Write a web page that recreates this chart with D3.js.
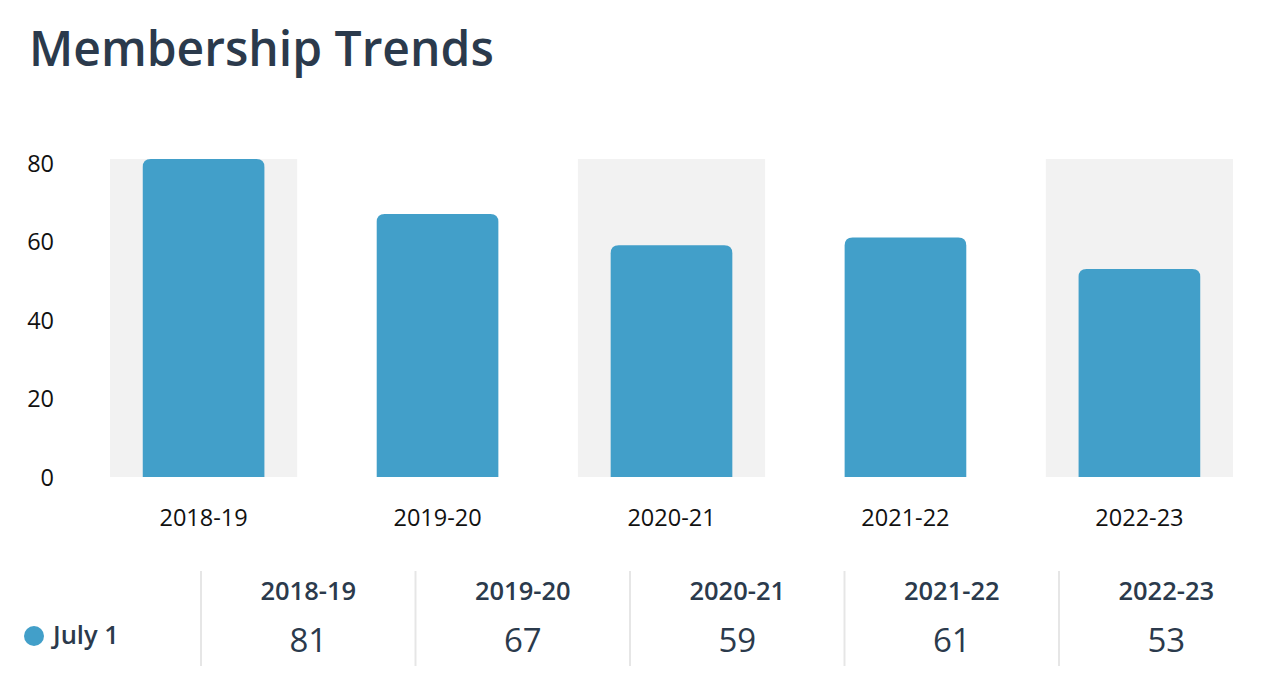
<!DOCTYPE html>
<html lang="en">
  <head>
    <meta charset="UTF-8" />
    <title>Membership Trends</title>
    <style>
      body {
        margin: 0;
        background: #fff;
        font-family: "Open Sans", sans-serif;
        overflow: hidden;
      }
      .title {
        font-size: 48px;
        font-weight: 600;
        fill: #2b3a4c;
      }
      .axis text {
        font-size: 23.5px;
        fill: #111;
        font-family: "Open Sans", sans-serif;
      }
      .axis path,
      .axis line {
        display: none;
      }
      .shade {
        fill: #f2f2f2;
      }
      .bar {
        fill: #429fc9;
      }
      .divider {
        stroke: #e6e6e6;
        stroke-width: 2px;
      }
      .head {
        font-size: 25.5px;
        font-weight: 600;
        fill: #2b3a4c;
      }
      .val {
        font-size: 33px;
        fill: #2b3a4c;
      }
      .legend-text {
        font-size: 25.5px;
        font-weight: 600;
        fill: #2b3a4c;
      }
    </style>
  </head>
  <body>
    <svg width="1264" height="682"></svg>

    <script src="https://cdn.jsdelivr.net/npm/d3@7"></script>
    <script>
      const seasons = ["2018-19", "2019-20", "2020-21", "2021-22", "2022-23"];
      const july1 = [81, 67, 59, 61, 53];
      const yTicks = [0, 20, 40, 60, 80];
      const seriesName = "July 1";

      const svg = d3.select("svg");

      svg
        .append("text")
        .attr("class", "title")
        .attr("x", 29)
        .attr("y", 66)
        .text("Membership Trends");

      // plot area
      const x = d3
        .scaleBand()
        .domain(seasons)
        .range([110, 1233])
        .paddingInner(0.2)
        .paddingOuter(0);

      const y = d3.scaleLinear().domain([0, d3.max(july1)]).range([477, 159]);

      // alternating background columns
      svg
        .selectAll("rect.shade")
        .data(seasons.filter((d, i) => i % 2 === 0))
        .enter()
        .append("rect")
        .attr("class", "shade")
        .attr("x", (d) => x(d))
        .attr("y", y.range()[1])
        .attr("width", x.bandwidth())
        .attr("height", y.range()[0] - y.range()[1]);

      const barW = x.bandwidth() * 0.65;
      const r = 8;

      function topRounded(x0, y0, w, h) {
        return `M ${x0} ${y0 + h}
                V ${y0 + r}
                Q ${x0} ${y0} ${x0 + r} ${y0}
                H ${x0 + w - r}
                Q ${x0 + w} ${y0} ${x0 + w} ${y0 + r}
                V ${y0 + h} Z`;
      }

      svg
        .selectAll("path.bar")
        .data(seasons)
        .enter()
        .append("path")
        .attr("class", "bar")
        .attr("d", (d, i) => {
          const bx = x(d) + (x.bandwidth() - barW) / 2;
          const by = y(july1[i]);
          return topRounded(bx, by, barW, y(0) - by);
        });

      // axes
      svg
        .append("g")
        .attr("class", "axis")
        .attr("transform", "translate(54,0)")
        .call(d3.axisLeft(y).tickValues(yTicks).tickSize(0).tickPadding(0))
        .selectAll("text")
        .attr("dy", "0.35em");

      svg
        .append("g")
        .attr("class", "axis")
        .attr("transform", "translate(0,477)")
        .call(d3.axisBottom(x).tickSize(0).tickPadding(32));

      // data table below
      const col = d3
        .scaleBand()
        .domain(seasons)
        .range([201, 201 + 214.5 * 5]);

      svg
        .selectAll("line.divider")
        .data(seasons)
        .enter()
        .append("line")
        .attr("class", "divider")
        .attr("x1", (d) => col(d))
        .attr("x2", (d) => col(d))
        .attr("y1", 571)
        .attr("y2", 666);

      svg
        .selectAll("text.head")
        .data(seasons)
        .enter()
        .append("text")
        .attr("class", "head")
        .attr("text-anchor", "middle")
        .attr("x", (d) => col(d) + col.bandwidth() / 2)
        .attr("y", 600)
        .text((d) => d);

      svg
        .selectAll("text.val")
        .data(july1)
        .enter()
        .append("text")
        .attr("class", "val")
        .attr("text-anchor", "middle")
        .attr("x", (d, i) => col(seasons[i]) + col.bandwidth() / 2)
        .attr("y", 652)
        .text((d) => d);

      svg
        .append("circle")
        .attr("cx", 34)
        .attr("cy", 636)
        .attr("r", 10)
        .attr("fill", "#429fc9");

      svg
        .append("text")
        .attr("class", "legend-text")
        .attr("x", 53)
        .attr("y", 644)
        .text(seriesName);
    </script>
  </body>
</html>
